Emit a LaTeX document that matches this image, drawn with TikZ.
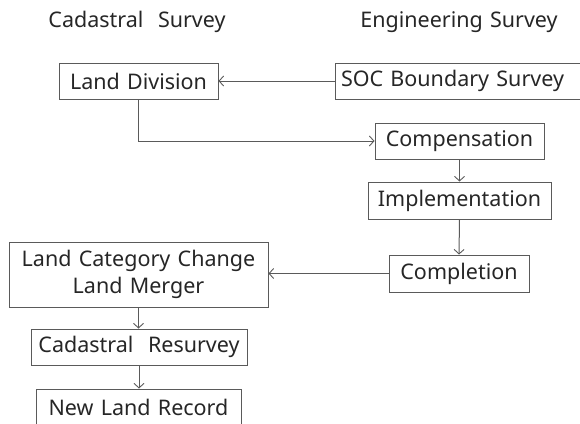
\documentclass[tikz,border=0pt]{standalone}
\usepackage{fontspec}
\setmainfont[WordSpace=1.3]{Noto Sans}
\usetikzlibrary{arrows.meta}
\definecolor{txt}{HTML}{262626}
\definecolor{ln}{HTML}{5A5A5A}
\tikzset{
  box/.style={draw=ln, line width=1pt, text=txt, inner sep=0pt, align=center,
    font=\fontsize{21.5}{26.5}\selectfont},
  title/.style={text=txt, inner sep=0pt, font=\fontsize{21.5}{26.5}\selectfont},
  conn/.style={draw=ln, line width=1pt, -{Straight Barb[length=4.5pt,width=10pt,line width=0.9pt]}},
}
\begin{document}
\begin{tikzpicture}[x=1pt,y=-1pt]
\useasboundingbox (0,0) rectangle (580,423);
\node[title] (t1) at (137,22) {Cadastral\ \ Survey};
\node[title] (t2) at (459,22) {Engineering Survey};
\node[box, minimum width=159pt, minimum height=36pt] (ld) at (138.5,81) {Land Division};
\node[box, minimum width=247pt, minimum height=36pt] (soc) at (458.5,81) {SOC Boundary Survey\hspace*{12pt}};
\node[box, minimum width=169pt, minimum height=36pt] (comp) at (459.5,141) {Compensation};
\node[box, minimum width=183pt, minimum height=37pt] (impl) at (459.5,200.5) {Implementation};
\node[box, minimum width=140pt, minimum height=37pt] (cmpl) at (459,273.5) {Completion};
\node[box, minimum width=259pt, minimum height=65pt] (lcc) at (138.5,274.5) {Land Category Change\\Land Merger};
\node[box, minimum width=216pt, minimum height=36pt] (cr) at (139,347) {Cadastral\ \ Resurvey};
\node[box, minimum width=205pt, minimum height=37pt] (nlr) at (138.5,407.5) {New Land Record};
\draw[conn] (soc.west) -- (ld.east);
\draw[conn] (ld.south) |- (comp.west);
\draw[conn] (comp.south) -- (impl.north);
\draw[conn] (impl.south) -- (cmpl.north);
\draw[conn] (cmpl.west) -- (cmpl.west -| lcc.east);
\draw[conn] (lcc.south) -- (lcc.south |- cr.north);
\draw[conn] (cr.south) -- (cr.south |- nlr.north);
\end{tikzpicture}
\end{document}
